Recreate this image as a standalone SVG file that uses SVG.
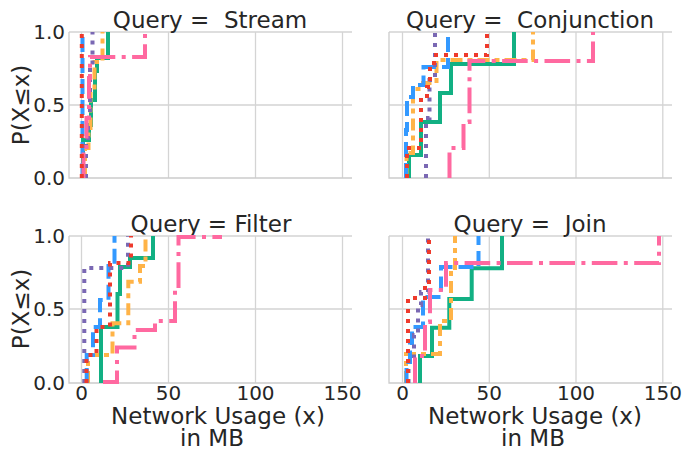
<svg xmlns="http://www.w3.org/2000/svg" width="686" height="453" viewBox="0 0 686 453">
  <style>
    text { font-family: "DejaVu Sans", "Bitstream Vera Sans", sans-serif; fill: #262626; }
    .title { font-size: 23px; text-anchor: middle; white-space: pre; }
    .lab { font-size: 23px; text-anchor: middle; }
    .ytk { font-size: 20px; text-anchor: end; }
    .xtk { font-size: 20px; text-anchor: middle; }
    .grid { stroke: #d4d4d4; stroke-width: 1.3; fill: none; }
    .spine { stroke: #cccccc; stroke-width: 1.3; fill: none; }
    .s { fill: none; stroke-width: 4; stroke-linecap: butt; stroke-linejoin: miter; }
    .green { stroke: #12b083; }
    .orange { stroke: #ffb347; stroke-dasharray: 12 5 5 5; }
    .blue { stroke: #3399ff; stroke-dasharray: 15 6; }
    .purple { stroke: #7a68b3; stroke-dasharray: 4 6; }
    .pink { stroke: #ff69a0; stroke-dasharray: 25.6 6.4 4 6.4; }
    .red { stroke: #ee3a2c; stroke-dasharray: 4 6; }
  </style>
  <rect width="686" height="453" fill="#ffffff"/>

  <!-- Panel: Stream (top left) -->
  <g id="panel-stream">
    <path class="grid" d="M69,105 H352 M69,32 H352 M81.5,32 V178 M168.5,32 V178 M255.5,32 V178 M342.5,32 V178"/>
    <path class="spine" d="M69,32 V178 H352"/>
    <text class="title" x="210" y="28" xml:space="preserve">Query =  Stream</text>
    <text class="ytk" x="65" y="39.3">1.0</text>
    <text class="ytk" x="65" y="112.3">0.5</text>
    <text class="ytk" x="65" y="185.3">0.0</text>
    <text class="lab" transform="translate(29,105) rotate(-90)">P(X≤x)</text>
    <g class="curves">
      <path class="s green" d="M83,178 V140 H89 V125 H91 V100 H95 V71 H97 V58 H108 V32"/>
      <path class="s orange" d="M85,178 V148 H88.5 V128 H90.5 V92 H94.5 V62 H102.5 V32"/>
      <path class="s blue" d="M82.5,178 V32"/>
      <path class="s purple" d="M86,178 V140 H88 V110 H90 V70 H92.5 V32"/>
      <path class="s pink" d="M83.5,178 V150 H86.5 V118 H89 V78 H90 V57 H145 V32"/>
      <path class="s red" d="M81.8,178 V32"/>
    </g>
  </g>

  <!-- Panel: Conjunction (top right) -->
  <g id="panel-conjunction">
    <path class="grid" d="M389,105 H672 M389,32 H672 M402.5,32 V178 M489.3,32 V178 M576,32 V178 M662.8,32 V178"/>
    <path class="spine" d="M389,32 V178 H672"/>
    <text class="title" x="530" y="28" xml:space="preserve">Query =  Conjunction</text>
    <g class="curves">
      <path class="s green" d="M409,178 V155 H421 V122 H440 V93 H451 V64 H514 V32"/>
      <path class="s orange" d="M406.5,178 V153 H413 V89 H423 V83 H436.5 V60 H533 V32"/>
      <path class="s blue" d="M406,178 V130 H407 V97 H413 V85 H423.5 V67 H448 V32"/>
      <path class="s purple" d="M426,178 V118 H429.5 V80 H435 V32"/>
      <path class="s pink" d="M449.5,178 V148 H463.5 V122 H469.5 V61 H593 V32"/>
      <path class="s red" d="M407,178 V148 H421 V100 H427 V87 H430 V63 H434 V55 H487 V32"/>
    </g>
  </g>

  <!-- Panel: Filter (bottom left) -->
  <g id="panel-filter">
    <path class="grid" d="M69,309 H352 M69,236 H352 M81.5,236 V383 M168.5,236 V383 M255.5,236 V383 M342.5,236 V383"/>
    <path class="spine" d="M69,236 V383 H352"/>
    <text class="title" x="211" y="232">Query = Filter</text>
    <text class="ytk" x="65" y="243.3">1.0</text>
    <text class="ytk" x="65" y="316.3">0.5</text>
    <text class="ytk" x="65" y="390">0.0</text>
    <text class="xtk" x="81.5" y="400">0</text>
    <text class="xtk" x="168.5" y="400">50</text>
    <text class="xtk" x="255.5" y="400">100</text>
    <text class="xtk" x="342.5" y="400">150</text>
    <text class="lab" transform="translate(29,309) rotate(-90)">P(X≤x)</text>
    <text class="lab" x="218" y="424">Network Usage (x)</text>
    <text class="lab" x="212" y="446">in MB</text>
    <g class="curves">
      <path class="s green" d="M101,383 V327 H117.5 V294 H120 V267 H130 V258 H153 V236"/>
      <path class="s orange" d="M88,383 V355 H112.5 V323.3 H128.3 V281.7 H140 V266 H145.5 V236"/>
      <path class="s blue" d="M86.7,383 V355 H93 V327 H100 V300 H108.5 V266 H114.5 V236"/>
      <path class="s purple" d="M84.3,383 V268 H128 V236"/>
      <path class="s pink" d="M103,382 H117 V347.5 H134.5 V330 H155 V321 H175 V290 H178.5 V237 H222"/>
      <path class="s red" d="M86.5,383 V355 H96.5 V327 H110 V263 H131 V236"/>
    </g>
  </g>

  <!-- Panel: Join (bottom right) -->
  <g id="panel-join">
    <path class="grid" d="M389,309 H672 M389,236 H672 M402.5,236 V383 M489.3,236 V383 M576,236 V383 M662.8,236 V383"/>
    <path class="spine" d="M389,236 V383 H672"/>
    <text class="title" x="530" y="232" xml:space="preserve">Query =  Join</text>
    <text class="xtk" x="402.5" y="400">0</text>
    <text class="xtk" x="489.3" y="400">50</text>
    <text class="xtk" x="576" y="400">100</text>
    <text class="xtk" x="662.8" y="400">150</text>
    <text class="lab" x="535" y="424">Network Usage (x)</text>
    <text class="lab" x="533" y="446">in MB</text>
    <g class="curves">
      <path class="s green" d="M420,383 V356 H432 V327.7 H449.3 V299 H471.7 V268.3 H502 V236"/>
      <path class="s orange" d="M406,383 V354 H440 V321 H451 V268 H455 V236"/>
      <path class="s blue" d="M406.5,383 V362 H410 V343 H412 V327 H423 V297 H441 V267 H478.5 V236"/>
      <path class="s purple" d="M408.5,383 V358 H414 V335 H418 V305 H421 V292 H428 V236"/>
      <path class="s pink" d="M415,383 V356 H425 V322 H430 V290 H446 V263 H659 V236"/>
      <path class="s red" d="M408,383 V298 H425 V285 H429 V236"/>
    </g>
  </g>
</svg>
